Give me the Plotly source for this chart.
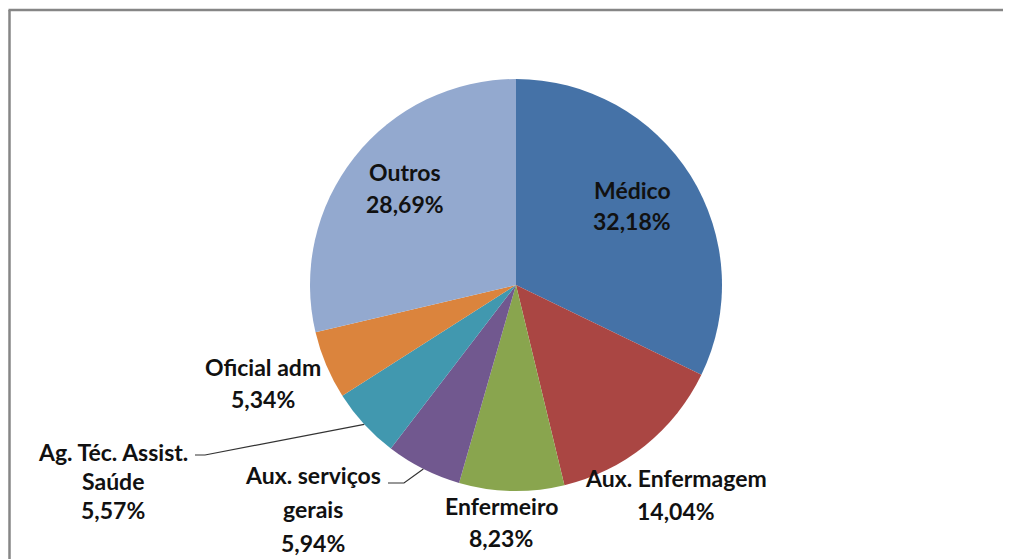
import math
import plotly.graph_objects as go

# ---- data ----
categories = ["Médico", "Aux. Enfermagem", "Enfermeiro", "Aux. serviços gerais",
              "Ag. Téc. Assist. Saúde", "Oficial adm", "Outros"]
values = [32.18, 14.04, 8.23, 5.94, 5.57, 5.34, 28.69]
colors = ["#4572A7", "#AA4643", "#89A54E", "#71588F", "#4198AF", "#DB843D", "#93A9CF"]
wrapped = {
    "Aux. serviços gerais": ["Aux. serviços", "gerais"],
    "Ag. Téc. Assist. Saúde": ["Ag. Téc. Assist.", "Saúde"],
}

# ---- layout geometry (page pixels; the page body adds an 8px offset) ----
OFF = 8
W, H = 1011 - OFF, 559 - OFF
CX, CY, R = 516, 285, 206

def px(x):
    return (x - OFF) / W

def py(y):
    return 1 - (y - OFF) / H

# label anchor (center of first line), line spacing
label_pos = {
    "Médico": (632, 190, 31),
    "Aux. Enfermagem": (676, 478, 33),
    "Enfermeiro": (501, 506, 32),
    "Aux. serviços gerais": (313, 475, 34),
    "Ag. Téc. Assist. Saúde": (113, 452, 29),
    "Oficial adm": (263, 367, 32),
    "Outros": (405, 172, 32),
}
leaders = {
    "Ag. Téc. Assist. Saúde": (195, 455, 205, 1.0),
    "Aux. serviços gerais": (388, 483, 404, 1.0),
}

fig = go.Figure(go.Pie(
    labels=categories,
    values=values,
    sort=False,
    direction="clockwise",
    rotation=0,
    marker=dict(colors=colors, line=dict(width=0)),
    textinfo="none",
    hoverinfo="label+percent",
    showlegend=False,
    domain=dict(x=[px(CX - R), px(CX + R)], y=[py(CY + R), py(CY - R)]),
))

font = dict(family="Lato, 'Open Sans', sans-serif", size=23, color="#111111")
annotations = []
shapes = []
total = sum(values)
cum = 0.0
for name, v in zip(categories, values):
    mid = (cum + v / 2) / total * 2 * math.pi
    cum += v
    lines = wrapped.get(name, [name]) + [f"{v:.2f}".replace(".", ",") + "%"]
    x0, y0, dy = label_pos[name]
    for i, t in enumerate(lines):
        annotations.append(dict(
            text=f"<b>{t}</b>", x=px(x0), y=py(y0 + i * dy), xref="paper", yref="paper",
            showarrow=False, xanchor="center", yanchor="middle", font=font))
    if name in leaders:
        lx, ly, kx, f = leaders[name]
        ex = CX + R * f * math.sin(mid)
        ey = CY - R * f * math.cos(mid)
        shapes.append(dict(type="path", xref="paper", yref="paper",
                           path=f"M {px(lx)} {py(ly)} L {px(kx)} {py(ly)} L {px(ex)} {py(ey)}",
                           line=dict(color="#333333", width=1.2)))

# outer chart border (top and left edges; the rest lies outside the view)
border = dict(color="#868686", width=2.5)
shapes.append(dict(type="line", xref="paper", yref="paper",
                   x0=px(8.5), y0=py(10), x1=1.0, y1=py(10), line=border))
shapes.append(dict(type="line", xref="paper", yref="paper",
                   x0=px(9.5), y0=py(10), x1=px(9.5), y1=0.0, line=border))

fig.update_layout(
    width=W, height=H,
    margin=dict(l=0, r=0, t=0, b=0),
    paper_bgcolor="white",
    plot_bgcolor="white",
    annotations=annotations,
    shapes=shapes,
)

fig.write_html("out.html")
